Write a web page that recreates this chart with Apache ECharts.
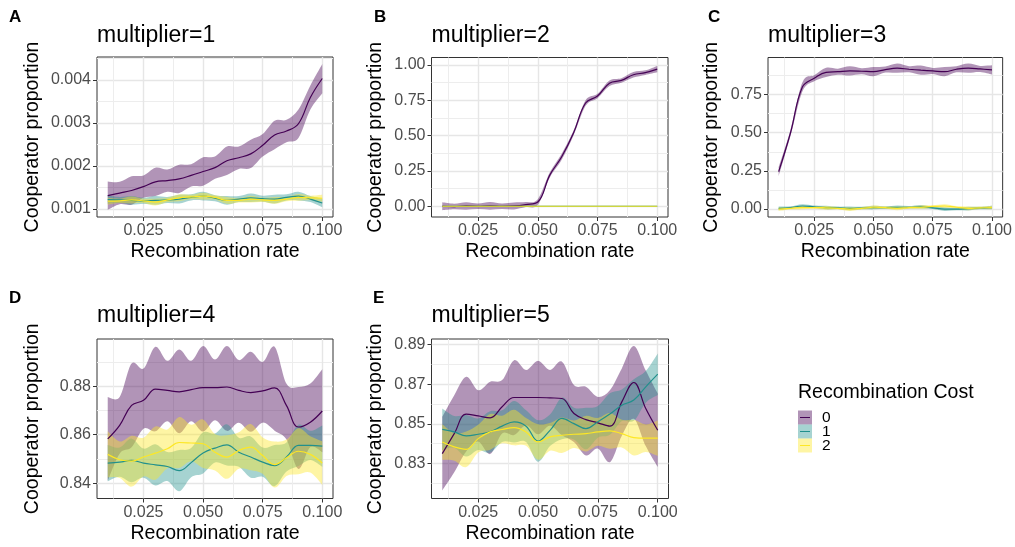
<!DOCTYPE html>
<html>
<head>
<meta charset="utf-8">
<title>Cooperator proportion vs recombination rate</title>
<script src="https://cdn.jsdelivr.net/npm/echarts@6/dist/echarts.min.js"></script>
<style>
  html, body { margin: 0; padding: 0; background: #fff; }
  #chart { width: 1015px; height: 547px; }
</style>
</head>
<body>
<div id="chart"></div>
<script>
// recombination rates shared by every panel
const rate = [0.01, 0.015, 0.02, 0.025, 0.03, 0.035, 0.04, 0.045, 0.05, 0.055,
              0.06, 0.065, 0.07, 0.075, 0.08, 0.085, 0.09, 0.095, 0.1];

const costLevels = ['0', '1', '2'];

// tick labels
const xTickLabels = ['0.025', '0.050', '0.075', '0.100'];
const xMinorTicks = [0.0125, 0.0375, 0.0625, 0.0875];
const aTickLabels = ['0.001', '0.002', '0.003', '0.004'];
const aMinorTicks = [0.0015, 0.0025, 0.0035, 0.0045];
const bTickLabels = ['0.00', '0.25', '0.50', '0.75', '1.00'];
const cTickLabels = ['0.00', '0.25', '0.50', '0.75'];
const bcMinorTicks = [0.125, 0.375, 0.625, 0.875];
const dTickLabels = ['0.84', '0.86', '0.88'];
const dMinorTicks = [0.85, 0.87, 0.89];
const eTickLabels = ['0.83', '0.85', '0.87', '0.89'];
const eMinorTicks = [0.82, 0.84, 0.86, 0.88];

// multiplier = 1
const a0Mean = [0.00131,0.00137,0.00143,0.00152,0.00163,0.00166,0.0017,0.00178,0.00187,0.00196,0.00212,0.00219,0.00228,0.00248,0.00272,0.00281,0.00298,0.00359,0.00403];
const a0Lo   = [0.00098,0.00111,0.0011,0.00126,0.0013,0.0014,0.00137,0.00152,0.00154,0.0017,0.00179,0.00193,0.00195,0.00222,0.00239,0.00255,0.00265,0.00331,0.00369];
const a0Hi   = [0.00164,0.00163,0.00176,0.00178,0.00196,0.00192,0.00203,0.00204,0.0022,0.00222,0.00245,0.00245,0.00261,0.00274,0.00305,0.00307,0.00331,0.00387,0.00437];
const a1Mean = [0.00122,0.00121,0.0012,0.00119,0.0012,0.00121,0.00123,0.00127,0.0013,0.00125,0.0012,0.00123,0.00126,0.00124,0.00123,0.00127,0.0013,0.00123,0.00114];
const a1Lo   = [0.00112,0.00114,0.0011,0.00112,0.0011,0.00114,0.00113,0.0012,0.0012,0.00118,0.0011,0.00116,0.00116,0.00117,0.00113,0.0012,0.0012,0.00116,0.00104];
const a1Hi   = [0.00132,0.00128,0.0013,0.00126,0.0013,0.00128,0.00133,0.00134,0.0014,0.00132,0.0013,0.0013,0.00136,0.00131,0.00133,0.00134,0.0014,0.0013,0.00124];
const a2Mean = [0.00118,0.00119,0.00121,0.00119,0.00116,0.00121,0.00126,0.00128,0.0013,0.00127,0.0012,0.0012,0.00123,0.00121,0.0012,0.00123,0.00127,0.00126,0.00125];
const a2Lo   = [0.0011,0.00114,0.00113,0.00114,0.00108,0.00116,0.00118,0.00123,0.00122,0.00122,0.00112,0.00115,0.00115,0.00116,0.00112,0.00118,0.00119,0.00121,0.00117];
const a2Hi   = [0.00126,0.00124,0.00129,0.00124,0.00124,0.00126,0.00134,0.00133,0.00138,0.00132,0.00128,0.00125,0.00131,0.00126,0.00128,0.00128,0.00135,0.00131,0.00133];

// multiplier = 2
const b0Mean = [0,-0.002,0.002,0,0.003,0,0.002,0.012,0.03,0.22,0.35,0.52,0.73,0.78,0.87,0.89,0.93,0.945,0.97];
const b0Lo   = [-0.028,-0.022,-0.025,-0.02,-0.024,-0.02,-0.023,-0.006,0.01,0.202,0.328,0.502,0.71,0.764,0.85,0.874,0.91,0.929,0.948];
const b0Hi   = [0.028,0.018,0.029,0.02,0.03,0.02,0.027,0.03,0.05,0.238,0.372,0.538,0.75,0.796,0.89,0.906,0.95,0.961,0.992];
const b1Mean = [0,0,0,0,0,0,0,0,0,0,0,0,0,0,0,0,0,0,0];
const b1Lo   = [-0.002,-0.002,-0.002,-0.002,-0.002,-0.002,-0.002,-0.002,-0.002,-0.002,-0.002,-0.002,-0.002,-0.002,-0.002,-0.002,-0.002,-0.002,-0.002];
const b1Hi   = [0.002,0.002,0.002,0.002,0.002,0.002,0.002,0.002,0.002,0.002,0.002,0.002,0.002,0.002,0.002,0.002,0.002,0.002,0.002];
const b2Mean = [0,0,0,0,0,0,0,0,0,0,0,0,0,0,0,0,0,0,0];
const b2Lo   = [-0.002,-0.002,-0.002,-0.002,-0.002,-0.002,-0.002,-0.002,-0.002,-0.002,-0.002,-0.002,-0.002,-0.002,-0.002,-0.002,-0.002,-0.002,-0.002];
const b2Hi   = [0.002,0.002,0.002,0.002,0.002,0.002,0.002,0.002,0.002,0.002,0.002,0.002,0.002,0.002,0.002,0.002,0.002,0.002,0.002];

// multiplier = 3
const c0Mean = [0.245,0.5,0.8,0.857,0.896,0.9,0.905,0.903,0.9,0.914,0.923,0.916,0.91,0.905,0.9,0.916,0.923,0.918,0.912];
const c0Lo   = [0.215,0.48,0.77,0.837,0.866,0.88,0.875,0.883,0.87,0.894,0.893,0.896,0.88,0.885,0.87,0.896,0.893,0.898,0.882];
const c0Hi   = [0.275,0.52,0.83,0.877,0.926,0.92,0.935,0.923,0.93,0.934,0.953,0.936,0.94,0.925,0.93,0.936,0.953,0.938,0.942];
const c1Mean = [0.005,0.01,0.02,0.015,0.01,0.008,0.005,0.007,0.01,0.01,0.012,0.012,0.015,0.008,0,0,0.003,0.007,0.01];
const c1Lo   = [-0.007,0.002,0.008,0.007,-0.002,0,-0.007,-0.001,-0.002,0.002,0,0.004,0.003,0,-0.012,-0.008,-0.009,-0.001,-0.002];
const c1Hi   = [0.017,0.018,0.032,0.023,0.022,0.016,0.017,0.015,0.022,0.018,0.024,0.02,0.027,0.016,0.012,0.008,0.015,0.015,0.022];
const c2Mean = [0,0.005,0.01,0.01,0.008,0.005,0,0.005,0.012,0.01,0.005,0.01,0.012,0.017,0.02,0.012,0.005,0.008,0.01];
const c2Lo   = [-0.012,-0.003,-0.002,0.002,-0.004,-0.003,-0.012,-0.003,0,0.002,-0.007,0.002,0,0.009,0.008,0.004,-0.007,0,-0.002];
const c2Hi   = [0.012,0.013,0.022,0.018,0.02,0.013,0.012,0.013,0.024,0.018,0.017,0.018,0.024,0.025,0.032,0.02,0.017,0.016,0.022];

// multiplier = 4
const d0Mean = [0.8583,0.8639,0.8721,0.8742,0.8788,0.8783,0.8777,0.8786,0.8794,0.8794,0.8797,0.8783,0.8774,0.8781,0.8793,0.872,0.8632,0.8652,0.8698];
const d0Lo   = [0.841,0.8522,0.8548,0.8625,0.8614,0.8656,0.8606,0.8656,0.8613,0.866,0.8616,0.865,0.8612,0.865,0.8617,0.858,0.8459,0.8549,0.8528];
const d0Hi   = [0.8756,0.8756,0.8894,0.8873,0.8963,0.8905,0.8952,0.8905,0.8966,0.891,0.8966,0.8908,0.8942,0.89,0.8963,0.881,0.8797,0.8811,0.887];
const d1Mean = [0.8483,0.8487,0.8494,0.8483,0.8476,0.8469,0.8452,0.8485,0.8525,0.8545,0.8558,0.8528,0.8508,0.8487,0.8473,0.8508,0.8556,0.8556,0.8553];
const d1Lo   = [0.8408,0.8427,0.8404,0.8423,0.8391,0.8409,0.8367,0.8425,0.844,0.8485,0.8473,0.8468,0.8423,0.8427,0.8388,0.8448,0.8471,0.8496,0.8468];
const d1Hi   = [0.8558,0.8547,0.8584,0.8543,0.8561,0.8529,0.8537,0.8545,0.861,0.8605,0.8643,0.8588,0.8593,0.8547,0.8558,0.8568,0.8641,0.8616,0.8638];
const d2Mean = [0.8519,0.8497,0.8491,0.8508,0.8524,0.8542,0.8568,0.8566,0.8563,0.8528,0.8508,0.8535,0.8549,0.8514,0.8477,0.8505,0.8532,0.8519,0.8483];
const d2Lo   = [0.8424,0.8422,0.8386,0.8428,0.8414,0.8462,0.8463,0.8491,0.8463,0.8453,0.8418,0.846,0.8454,0.8439,0.8382,0.843,0.8437,0.8444,0.8393];
const d2Hi   = [0.8614,0.8572,0.8596,0.8588,0.8634,0.8622,0.8673,0.8641,0.8663,0.8603,0.8598,0.861,0.8644,0.8589,0.8572,0.858,0.8627,0.8594,0.8573];

// multiplier = 5
const e0Mean = [0.8349,0.845,0.8549,0.854,0.853,0.8586,0.8633,0.8633,0.8633,0.8631,0.8628,0.8552,0.8521,0.8505,0.8488,0.8611,0.8709,0.8577,0.8467];
const e0Lo   = [0.8163,0.8255,0.836,0.841,0.8347,0.8451,0.8443,0.8493,0.8447,0.849,0.8442,0.8408,0.834,0.8375,0.8306,0.844,0.8525,0.8387,0.8281];
const e0Hi   = [0.8535,0.8645,0.8738,0.867,0.8713,0.8721,0.8822,0.8772,0.8819,0.8772,0.8814,0.8696,0.8687,0.8636,0.867,0.878,0.8893,0.877,0.8653];
const e1Mean = [0.8472,0.8459,0.8439,0.8447,0.8459,0.8488,0.851,0.8488,0.8413,0.8467,0.8527,0.8501,0.8476,0.851,0.8549,0.8594,0.862,0.8687,0.8751];
const e1Lo   = [0.8367,0.8379,0.8334,0.8367,0.8354,0.8408,0.8405,0.8408,0.8308,0.8387,0.8422,0.8421,0.8371,0.843,0.8444,0.8514,0.8515,0.8607,0.8646];
const e1Hi   = [0.8577,0.8539,0.8544,0.8527,0.8564,0.8568,0.8615,0.8568,0.8518,0.8547,0.8632,0.8581,0.8581,0.859,0.8654,0.8674,0.8725,0.8767,0.8856];
const e2Mean = [0.8408,0.8383,0.8371,0.8425,0.8459,0.8471,0.8481,0.8459,0.8408,0.8434,0.8442,0.8447,0.845,0.8459,0.8464,0.845,0.843,0.8427,0.8427];
const e2Lo   = [0.8318,0.8313,0.8281,0.8355,0.8369,0.8401,0.8391,0.8389,0.8318,0.8364,0.8352,0.8377,0.836,0.8389,0.8374,0.838,0.834,0.8357,0.8337];
const e2Hi   = [0.8498,0.8453,0.8461,0.8495,0.8549,0.8541,0.8571,0.8529,0.8498,0.8504,0.8532,0.8517,0.854,0.8529,0.8554,0.852,0.852,0.8497,0.8517];

const FONT = '"Liberation Sans", Arial, sans-serif';
const lineColors = ['#440154', '#21908C', '#FDE725'];
const bandColors = ['rgba(68,1,84,0.42)', 'rgba(33,144,140,0.4)', 'rgba(253,231,37,0.42)'];
const xMin = 0.0055, xMax = 0.1045;

const panels = [
  { tag: 'A', title: 'multiplier=1', box: [97, 57, 236, 160], tagPos: [9, 9], titleTop: 24,
    yMin: 0.000814, yMax: 0.00453, yLabels: aTickLabels, yMinor: aMinorTicks, yGap: 54,
    mean: [a0Mean, a1Mean, a2Mean], lo: [a0Lo, a1Lo, a2Lo], hi: [a0Hi, a1Hi, a2Hi] },
  { tag: 'B', title: 'multiplier=2', box: [431.5, 57.5, 236.5, 159.5], tagPos: [374, 9], titleTop: 24,
    yMin: -0.076, yMax: 1.052, yLabels: bTickLabels, yMinor: bcMinorTicks, yGap: 46,
    mean: [b0Mean, b1Mean, b2Mean], lo: [b0Lo, b1Lo, b2Lo], hi: [b0Hi, b1Hi, b2Hi] },
  { tag: 'C', title: 'multiplier=3', box: [768, 57.5, 237, 159.5], tagPos: [708, 9], titleTop: 24,
    yMin: -0.052, yMax: 0.993, yLabels: cTickLabels, yMinor: bcMinorTicks, yGap: 46,
    mean: [c0Mean, c1Mean, c2Mean], lo: [c0Lo, c1Lo, c2Lo], hi: [c0Hi, c1Hi, c2Hi] },
  { tag: 'D', title: 'multiplier=4', box: [97, 339, 236, 159.5], tagPos: [9, 290], titleTop: 304,
    yMin: 0.8337, yMax: 0.8995, yLabels: dTickLabels, yMinor: dMinorTicks, yGap: 54,
    mean: [d0Mean, d1Mean, d2Mean], lo: [d0Lo, d1Lo, d2Lo], hi: [d0Hi, d1Hi, d2Hi] },
  { tag: 'E', title: 'multiplier=5', box: [431.5, 339, 237, 159.5], tagPos: [373, 290], titleTop: 304,
    yMin: 0.8122, yMax: 0.8929, yLabels: eTickLabels, yMinor: eMinorTicks, yGap: 46,
    mean: [e0Mean, e1Mean, e2Mean], lo: [e0Lo, e1Lo, e2Lo], hi: [e0Hi, e1Hi, e2Hi] }
];

function labelFormatter(labels) {
  return function (v) {
    const hit = labels.find(l => Math.abs(Number(l) - v) < 1e-9);
    return hit === undefined ? '' : hit;
  };
}

function majorAxis(gridIndex, min, max, labels, extra) {
  const values = labels.map(Number);
  return Object.assign({
    gridIndex: gridIndex, type: 'value', min: min, max: max,
    axisLine: { show: false, onZero: false },
    axisTick: { show: true, length: 4, customValues: values, lineStyle: { color: '#333333', width: 1 } },
    axisLabel: { customValues: values, formatter: labelFormatter(labels), color: '#4D4D4D',
                 fontSize: 16, fontFamily: FONT, margin: 6 },
    splitLine: { show: true, lineStyle: { color: '#E6E6E6', width: 1.4 } },
    nameLocation: 'middle',
    nameTextStyle: { fontSize: 19.5, fontFamily: FONT, color: '#000000' }
  }, extra);
}

function minorAxis(gridIndex, min, max, values) {
  return {
    gridIndex: gridIndex, type: 'value', min: min, max: max,
    axisLine: { show: false, onZero: false },
    axisTick: { show: false, customValues: values },
    axisLabel: { show: false, customValues: values },
    splitLine: { show: true, lineStyle: { color: '#EDEDED', width: 1 } }
  };
}

// cubic segments through pixel points (Catmull-Rom style)
function smoothSegments(pts) {
  let d = '';
  for (let k = 0; k < pts.length - 1; k++) {
    const p0 = pts[Math.max(k - 1, 0)], p1 = pts[k], p2 = pts[k + 1], p3 = pts[Math.min(k + 2, pts.length - 1)];
    const c1 = [p1[0] + (p2[0] - p0[0]) / 6, p1[1] + (p2[1] - p0[1]) / 6];
    const c2 = [p2[0] - (p3[0] - p1[0]) / 6, p2[1] - (p3[1] - p1[1]) / 6];
    d += 'C' + c1[0] + ',' + c1[1] + ' ' + c2[0] + ',' + c2[1] + ' ' + p2[0] + ',' + p2[1];
  }
  return d;
}

function ribbonRenderer(fill) {
  return function (params, api) {
    if (params.dataIndexInside !== 0) return null;
    const n = params.dataInsideLength;
    const upper = [], lower = [];
    for (let k = 0; k < n; k++) {
      const x = api.value(0, k);
      upper.push(api.coord([x, api.value(2, k)]));
      lower.push(api.coord([x, api.value(1, k)]));
    }
    lower.reverse();
    const d = 'M' + upper[0][0] + ',' + upper[0][1] + smoothSegments(upper) +
              'L' + lower[0][0] + ',' + lower[0][1] + smoothSegments(lower) + 'Z';
    return { type: 'path', shape: { pathData: d }, style: { fill: fill, stroke: null }, silent: true };
  };
}

const grids = [], xAxes = [], yAxes = [], series = [], titles = [];

panels.forEach(function (p, i) {
  grids.push({ left: p.box[0], top: p.box[1], width: p.box[2], height: p.box[3],
               show: true, borderColor: '#333333', borderWidth: 1, backgroundColor: '#ffffff' });

  xAxes.push(majorAxis(i, xMin, xMax, xTickLabels, { name: 'Recombination rate', nameGap: 25 }));
  xAxes.push(minorAxis(i, xMin, xMax, xMinorTicks));
  yAxes.push(majorAxis(i, p.yMin, p.yMax, p.yLabels, { name: 'Cooperator proportion', nameGap: p.yGap }));
  yAxes.push(minorAxis(i, p.yMin, p.yMax, p.yMinor));

  costLevels.forEach(function (cost, c) {
    series.push({
      type: 'custom', name: 'band' + c, xAxisIndex: 2 * i, yAxisIndex: 2 * i,
      clip: true, silent: true, animation: false,
      encode: { x: 0, y: [1, 2] },
      data: rate.map((x, k) => [x, p.lo[c][k], p.hi[c][k]]),
      renderItem: ribbonRenderer(bandColors[c])
    });
    series.push({
      type: 'line', name: cost, xAxisIndex: 2 * i, yAxisIndex: 2 * i,
      symbol: 'none', smooth: 0.4, silent: true, animation: false,
      data: rate.map((x, k) => [x, p.mean[c][k]]),
      lineStyle: { color: lineColors[c], width: 1.2 },
      itemStyle: { color: lineColors[c] }
    });
  });

  titles.push({ text: p.tag, left: p.tagPos[0], top: p.tagPos[1], padding: 0,
                textStyle: { fontSize: 17, fontWeight: 'bold', fontFamily: FONT, color: '#000000' } });
  titles.push({ text: p.title, left: p.box[0], top: p.titleTop, padding: 0,
                textStyle: { fontSize: 23, fontWeight: 'normal', fontFamily: FONT, color: '#000000' } });
});

titles.push({ text: 'Recombination Cost', left: 798, top: 383, padding: 0,
              textStyle: { fontSize: 19.5, fontWeight: 'normal', fontFamily: FONT, color: '#000000' } });

const lineIcon = 'path://M0,0H0.01V0.01H0Z M2,6.4H12V7.6H2Z M13.99,13.99H14V14H13.99Z';

const legendBase = {
  orient: 'vertical', left: 798, top: 409.5, padding: 0,
  itemWidth: 14, itemHeight: 14, itemGap: -2.0, selectedMode: false,
  symbolKeepAspect: true
};

const legends = [
  Object.assign({}, legendBase, {
    data: costLevels.map((n, c) => ({ name: n, icon: 'rect', itemStyle: { color: bandColors[c], borderWidth: 0 } })),
    textStyle: { fontSize: 15.5, lineHeight: 14, fontFamily: FONT, color: '#000000', padding: [0, 0, 0, 5] }
  }),
  Object.assign({}, legendBase, {
    data: costLevels.map((n, c) => ({ name: n, icon: lineIcon, itemStyle: { color: lineColors[c], borderWidth: 0 } })),
    textStyle: { fontSize: 15.5, lineHeight: 14, fontFamily: FONT, color: 'rgba(0,0,0,0)', padding: [0, 0, 0, 5] }
  })
];

const chart = echarts.init(document.getElementById('chart'), null, { renderer: 'canvas' });
chart.setOption({
  animation: false,
  backgroundColor: '#ffffff',
  textStyle: { fontFamily: FONT },
  title: titles,
  legend: legends,
  grid: grids,
  xAxis: xAxes,
  yAxis: yAxes,
  series: series
});
</script>
</body>
</html>
